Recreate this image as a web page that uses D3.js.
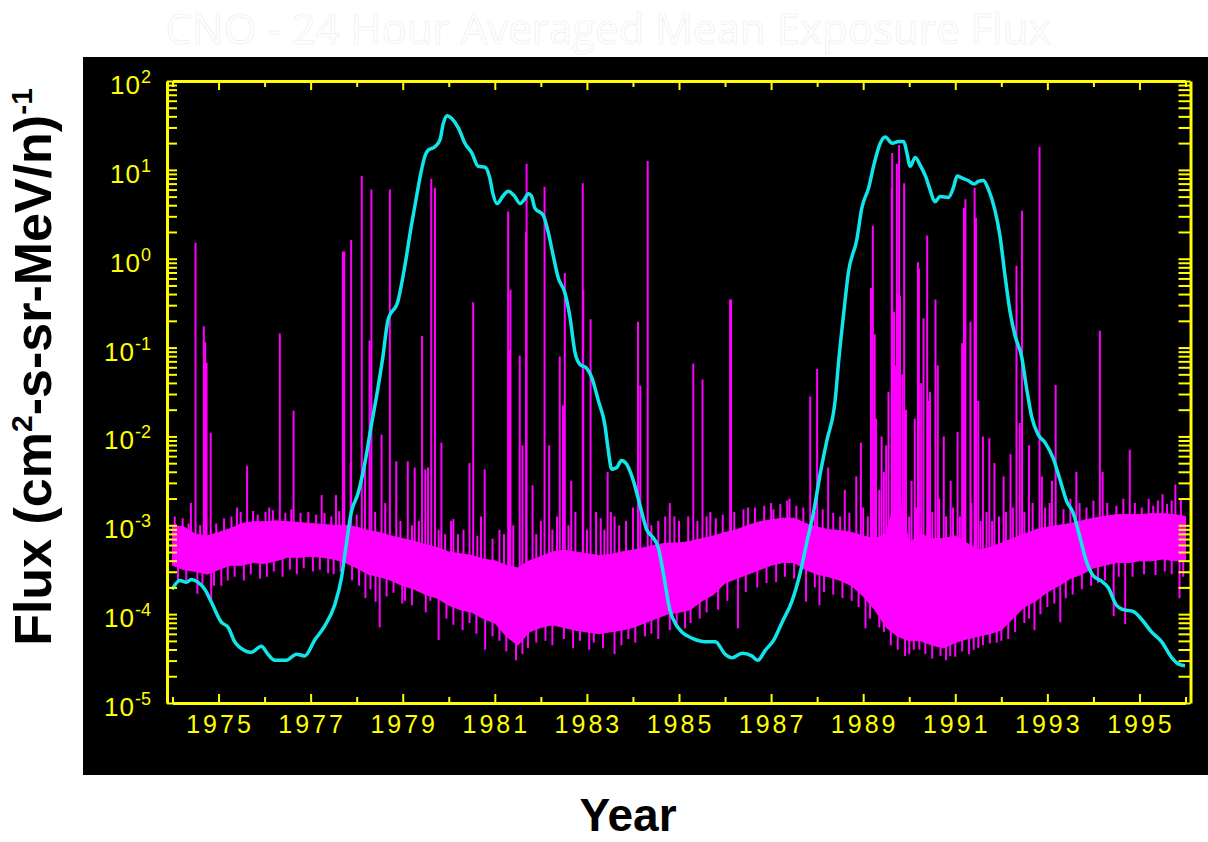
<!DOCTYPE html>
<html><head><meta charset="utf-8">
<script src="https://cdn.jsdelivr.net/npm/d3@7"></script>
<style>body{margin:0;background:#fff;} svg{display:block}</style>
</head><body>
<svg id="c" width="1208" height="842"></svg>
<script>
// ---------- DATA ----------
const titleText = "CNO - 24 Hour Averaged Mean Exposure Flux";
const yearTicks = d3.range(1974, 1997);
const yearLabels = [1975,1977,1979,1981,1983,1985,1987,1989,1991,1993,1995];
const decadeExponents = [-5,-4,-3,-2,-1,0,1,2];

// Smoothed (cyan) curve: year and log10(flux)
const avgYears = [1973.99,1974.16,1974.30,1974.41,1974.55,1974.70,1974.84,1975.06,1975.21,1975.35,1975.57,1975.71,1975.93,1976.07,1976.22,1976.47,1976.69,1976.87,1977.09,1977.31,1977.52,1977.67,1977.77,1977.88,1978.03,1978.17,1978.32,1978.46,1978.57,1978.68,1978.90,1979.04,1979.18,1979.29,1979.40,1979.48,1979.55,1979.70,1979.81,1979.88,1979.97,1980.06,1980.21,1980.35,1980.50,1980.64,1980.79,1980.89,1980.96,1981.05,1981.17,1981.29,1981.42,1981.55,1981.63,1981.73,1981.80,1981.87,1982.05,1982.16,1982.27,1982.38,1982.52,1982.63,1982.74,1982.85,1982.99,1983.10,1983.25,1983.39,1983.46,1983.54,1983.65,1983.75,1983.86,1984.01,1984.15,1984.30,1984.44,1984.55,1984.66,1984.80,1984.95,1985.06,1985.28,1985.57,1985.79,1986.00,1986.15,1986.37,1986.58,1986.71,1986.87,1987.06,1987.24,1987.45,1987.63,1987.78,1987.92,1988.07,1988.21,1988.39,1988.47,1988.58,1988.68,1988.86,1988.97,1989.12,1989.23,1989.37,1989.48,1989.63,1989.77,1989.88,1989.95,1990.02,1990.13,1990.24,1990.36,1990.45,1990.56,1990.67,1990.85,1990.96,1991.04,1991.14,1991.28,1991.41,1991.50,1991.61,1991.72,1991.86,1991.97,1992.08,1992.19,1992.30,1992.44,1992.55,1992.66,1992.80,1992.95,1993.13,1993.27,1993.42,1993.56,1993.71,1993.85,1994.00,1994.18,1994.32,1994.50,1994.65,1994.86,1995.05,1995.26,1995.48,1995.70,1995.84,1995.99];
const avgLog10 = [-3.72,-3.62,-3.64,-3.61,-3.64,-3.72,-3.86,-4.09,-4.15,-4.31,-4.41,-4.43,-4.36,-4.45,-4.52,-4.52,-4.45,-4.47,-4.29,-4.13,-3.90,-3.59,-3.23,-2.86,-2.64,-2.32,-1.87,-1.46,-1.10,-0.69,-0.47,-0.10,0.35,0.67,0.98,1.15,1.22,1.26,1.34,1.52,1.61,1.58,1.47,1.30,1.19,1.04,1.03,0.91,0.73,0.62,0.70,0.76,0.71,0.62,0.66,0.73,0.70,0.57,0.49,0.30,0.03,-0.22,-0.38,-0.65,-1.05,-1.19,-1.23,-1.33,-1.60,-1.87,-2.14,-2.37,-2.35,-2.27,-2.31,-2.50,-2.77,-3.05,-3.14,-3.25,-3.54,-3.95,-4.13,-4.20,-4.27,-4.31,-4.31,-4.45,-4.49,-4.44,-4.47,-4.52,-4.41,-4.29,-4.09,-3.86,-3.54,-3.18,-2.86,-2.41,-2.05,-1.60,-1.14,-0.60,-0.15,0.21,0.57,0.80,1.05,1.30,1.37,1.30,1.32,1.32,1.19,1.04,1.14,1.05,0.92,0.78,0.64,0.70,0.69,0.80,0.93,0.91,0.88,0.84,0.87,0.88,0.78,0.55,0.26,-0.19,-0.60,-0.87,-1.10,-1.46,-1.78,-1.98,-2.07,-2.25,-2.48,-2.73,-2.86,-3.14,-3.41,-3.57,-3.63,-3.70,-3.90,-3.95,-3.97,-4.06,-4.20,-4.31,-4.49,-4.56,-4.58];

// Daily flux (magenta): background band (upper / lower edge, log10) sampled through time
const bandYears = d3.range(0, 89).map(i => 1974 + i * 0.25);
const bandHighLog10 = [-3.00,-3.02,-3.10,-3.12,-3.08,-3.04,-2.98,-2.96,-2.96,-2.95,-2.96,-2.97,-2.98,-2.99,-3.00,-3.00,-3.02,-3.06,-3.08,-3.12,-3.15,-3.18,-3.22,-3.25,-3.30,-3.32,-3.34,-3.38,-3.40,-3.45,-3.48,-3.40,-3.35,-3.30,-3.28,-3.30,-3.32,-3.34,-3.33,-3.30,-3.28,-3.25,-3.22,-3.20,-3.20,-3.18,-3.15,-3.12,-3.08,-3.05,-3.00,-2.96,-2.94,-2.92,-2.92,-2.98,-3.02,-3.05,-3.06,-3.08,-3.12,-3.15,-3.10,-2.60,-3.20,-3.10,-3.15,-3.15,-3.12,-3.20,-3.28,-3.25,-3.20,-3.15,-3.10,-3.05,-3.02,-3.00,-2.98,-2.95,-2.92,-2.90,-2.88,-2.88,-2.88,-2.87,-2.87,-2.88,-2.90];
const bandLowLog10 = [-3.45,-3.50,-3.52,-3.55,-3.50,-3.45,-3.45,-3.42,-3.43,-3.40,-3.36,-3.36,-3.35,-3.36,-3.38,-3.42,-3.48,-3.55,-3.58,-3.62,-3.68,-3.72,-3.78,-3.82,-3.90,-3.95,-3.98,-4.05,-4.10,-4.25,-4.35,-4.20,-4.15,-4.12,-4.15,-4.18,-4.20,-4.22,-4.20,-4.18,-4.15,-4.10,-4.05,-4.00,-3.98,-3.95,-3.85,-3.78,-3.65,-3.60,-3.55,-3.50,-3.45,-3.42,-3.42,-3.50,-3.55,-3.58,-3.62,-3.68,-3.80,-3.95,-4.15,-4.25,-4.30,-4.30,-4.35,-4.38,-4.32,-4.28,-4.25,-4.22,-4.18,-4.05,-3.92,-3.85,-3.75,-3.68,-3.60,-3.55,-3.48,-3.45,-3.42,-3.42,-3.40,-3.40,-3.38,-3.40,-3.40];

// Individual events (spikes and dips) of the daily flux: year, log10(flux)
const spikeYears = [1974.40,1974.50,1974.68,1974.71,1974.74,1974.83,1975.40,1975.62,1976.10,1976.33,1976.63,1977.24,1977.55,1977.70,1977.73,1977.87,1977.88,1978.11,1978.18,1978.28,1978.32,1978.54,1978.72,1978.86,1979.11,1979.26,1979.42,1979.49,1979.55,1979.62,1979.70,1979.84,1980.10,1980.45,1980.53,1980.78,1981.29,1981.32,1981.34,1981.54,1981.60,1981.68,1981.69,1981.82,1982.08,1982.18,1982.41,1982.48,1982.52,1982.66,1982.91,1982.92,1983.08,1983.20,1983.45,1983.60,1984.11,1984.16,1984.32,1984.70,1984.90,1985.31,1985.51,1985.68,1986.11,1986.13,1986.50,1987.00,1987.40,1987.85,1988.00,1988.24,1988.60,1988.85,1988.95,1989.17,1989.21,1989.25,1989.28,1989.40,1989.50,1989.55,1989.62,1989.63,1989.67,1989.70,1989.73,1989.76,1989.78,1989.80,1989.85,1989.89,1989.93,1990.05,1990.12,1990.19,1990.21,1990.26,1990.31,1990.39,1990.42,1990.45,1990.57,1990.62,1990.75,1990.90,1991.05,1991.15,1991.19,1991.22,1991.33,1991.42,1991.45,1991.50,1991.60,1991.74,1991.85,1992.05,1992.20,1992.33,1992.40,1992.45,1992.60,1992.83,1992.88,1993.10,1993.18,1993.63,1994.14,1994.20,1994.79,1995.20,1995.50,1995.78,
  1974.54,1974.84,1975.06,1975.90,1976.39,1977.38,1978.19,1978.41,1978.50,1978.99,1979.40,1979.60,1979.78,1980.79,1981.46,1982.50,1983.60,1984.26,1985.13,1986.28,1987.11,1987.76,1988.05,1989.05,1989.45,1989.91,1990.22,1990.68,1990.89,1991.50,1991.75,1992.72,1993.28,1994.44,1994.69,1995.87];
const spikeLog10 = [-2.75,0.18,-0.76,-0.94,-1.17,-1.96,-2.80,-2.33,-2.80,-0.84,-1.71,-2.66,-2.66,0.08,0.08,-2.30,0.21,0.93,-2.35,-0.92,0.78,-1.98,0.78,-2.28,-2.28,-2.35,-0.87,-2.37,-2.35,0.90,0.80,-2.07,-2.93,-2.30,-0.49,-2.37,0.53,-1.03,-0.35,-1.09,-2.10,0.30,1.07,-2.55,0.81,-2.10,-1.10,-1.65,-0.16,-2.50,0.85,-0.35,-0.68,-2.85,-2.40,-2.90,-0.71,-1.43,1.10,-2.90,-2.90,-1.18,-1.36,-2.85,-0.46,-0.46,-2.80,-2.75,-2.70,-1.55,-1.24,-2.35,-2.60,-2.45,-2.07,-0.33,0.37,-0.85,-1.80,-2.00,-2.10,-1.50,0.80,1.19,-0.60,-1.20,1.07,-0.40,1.28,-0.42,-1.30,0.85,-1.70,-2.50,-1.80,-0.04,-0.11,-1.40,-0.67,0.26,-1.60,-1.50,-0.46,-1.20,-2.00,-2.50,-1.95,-0.95,0.57,0.67,-0.71,0.80,0.46,-1.60,-2.00,-2.02,-2.30,-2.45,-2.20,-0.08,-1.85,0.54,-2.10,1.26,-2.45,-2.50,-1.42,-2.40,-0.81,-2.40,-2.15,-2.70,-2.65,-2.54,
  -3.77,-3.86,-3.68,-3.60,-3.58,-3.54,-3.82,-3.86,-4.15,-3.88,-3.75,-3.85,-4.29,-4.40,-4.52,-4.28,-4.45,-4.25,-4.16,-4.16,-3.64,-3.86,-3.90,-4.16,-4.20,-4.47,-4.40,-4.47,-4.47,-4.38,-4.33,-4.18,-4.09,-4.02,-4.11,-3.82];

// Day-to-day scatter just outside the band (short excursions above / below): year, log10(flux)
const scatterUpYears = [1974.05,1974.22,1974.35,1974.60,1974.95,1975.12,1975.28,1975.48,1975.75,1975.85,1976.02,1976.18,1976.45,1976.58,1976.78,1976.95,1977.12,1977.30,1977.45,1977.62,1978.00,1978.40,1978.62,1978.95,1979.20,1979.35,1979.78,1979.92,1980.05,1980.20,1980.32,1980.62,1980.70,1980.95,1981.10,1981.20,1981.40,1981.90,1982.00,1982.25,1982.35,1982.60,1982.75,1983.00,1983.30,1983.38,1983.52,1983.70,1983.85,1984.00,1984.40,1984.55,1984.80,1985.00,1985.20,1985.40,1985.60,1985.80,1985.95,1986.20,1986.40,1986.65,1986.85,1987.05,1987.20,1987.35,1987.55,1987.70,1987.95,1988.12,1988.35,1988.50,1988.70,1989.00,1989.10,1989.35,1989.45,1990.00,1990.15,1990.50,1990.65,1990.80,1990.95,1991.10,1991.35,1991.55,1991.68,1991.80,1991.95,1992.10,1992.25,1992.50,1992.68,1992.95,1993.05,1993.35,1993.50,1993.70,1993.85,1994.00,1994.30,1994.50,1994.65,1994.90,1995.05,1995.30,1995.40,1995.60,1995.70,1995.90];
const scatterUpLog10 = [-2.90,-2.92,-2.98,-3.00,-2.98,-2.92,-2.90,-2.85,-2.84,-2.88,-2.85,-2.83,-2.86,-2.82,-2.86,-2.85,-2.88,-2.86,-2.90,-2.84,-2.88,-2.85,-2.75,-2.95,-3.00,-2.95,-3.05,-3.10,-2.95,-3.10,-3.05,-3.12,-2.90,-3.15,-3.05,-3.10,-3.00,-3.10,-2.95,-3.05,-2.90,-3.00,-2.85,-3.05,-2.92,-3.05,-2.85,-3.00,-2.95,-2.80,-3.00,-2.95,-2.75,-2.95,-2.90,-2.95,-2.90,-2.92,-2.88,-2.85,-2.82,-2.80,-2.78,-2.82,-2.76,-2.72,-2.78,-2.80,-2.85,-2.82,-2.86,-2.90,-2.86,-2.80,-2.90,-2.60,-2.40,-2.90,-2.80,-2.85,-2.70,-2.90,-2.80,-2.90,-2.75,-2.95,-2.85,-2.95,-2.90,-2.85,-2.80,-2.85,-2.75,-2.80,-2.75,-2.82,-2.70,-2.75,-2.80,-2.72,-2.75,-2.78,-2.70,-2.75,-2.80,-2.78,-2.72,-2.76,-2.72,-2.70];
const scatterDownYears = [1974.12,1974.30,1974.65,1974.90,1975.20,1975.35,1975.55,1975.70,1976.05,1976.20,1976.55,1976.70,1976.85,1977.05,1977.20,1977.50,1977.65,1977.90,1978.05,1978.30,1978.65,1978.80,1979.05,1979.20,1979.50,1979.95,1980.10,1980.30,1980.45,1980.60,1980.95,1981.10,1981.25,1981.60,1981.72,1981.90,1982.10,1982.25,1982.70,1982.85,1983.05,1983.15,1983.35,1983.75,1983.90,1984.05,1984.40,1984.55,1984.80,1984.95,1985.25,1985.45,1985.60,1985.85,1986.05,1986.45,1986.70,1986.90,1987.30,1987.50,1987.95,1988.15,1988.35,1988.55,1988.75,1988.90,1989.15,1989.35,1989.60,1989.75,1990.00,1990.10,1990.35,1990.50,1990.80,1991.00,1991.15,1991.30,1991.40,1991.60,1991.90,1992.00,1992.15,1992.30,1992.50,1992.60,1992.85,1993.00,1993.15,1993.40,1993.55,1993.75,1993.95,1994.10,1994.25,1994.55,1994.85,1995.10,1995.35,1995.55,1995.70,1995.95];
const scatterDownLog10 = [-3.65,-3.62,-3.70,-3.68,-3.62,-3.58,-3.62,-3.55,-3.58,-3.52,-3.50,-3.55,-3.48,-3.52,-3.50,-3.55,-3.52,-3.62,-3.68,-3.72,-3.80,-3.76,-3.85,-3.90,-3.98,-4.05,-4.12,-4.18,-4.10,-4.22,-4.25,-4.30,-4.42,-4.45,-4.38,-4.32,-4.30,-4.35,-4.38,-4.30,-4.40,-4.32,-4.38,-4.35,-4.28,-4.32,-4.22,-4.28,-4.18,-4.15,-4.10,-4.05,-3.98,-3.95,-3.85,-3.75,-3.70,-3.65,-3.58,-3.60,-3.70,-3.75,-3.78,-3.82,-3.85,-3.92,-4.05,-4.15,-4.35,-4.40,-4.45,-4.40,-4.45,-4.50,-4.52,-4.48,-4.42,-4.45,-4.40,-4.35,-4.32,-4.30,-4.28,-4.20,-4.10,-4.05,-4.00,-3.92,-3.88,-3.82,-3.78,-3.72,-3.68,-3.65,-3.62,-3.58,-3.58,-3.55,-3.56,-3.52,-3.55,-3.58];

// ---------- CHART ----------
const svg = d3.select("#c");
const W = 1208;
const x = d3.scaleLinear().domain([1974, 1996]).range([172.5, 1185.5]);
const y = d3.scaleLog().domain([1e-5, 1e2]).range([703, 81]);
const YELLOW = "#ffff00";
const MAGENTA = "#ff00ff";
const FONT = "'Liberation Sans', Arial, sans-serif";

svg.append("rect").attr("x", 83).attr("y", 57).attr("width", W - 83).attr("height", 718).attr("fill", "#000");

svg.append("text").attr("x", 608).attr("y", 44).attr("text-anchor", "middle")
  .attr("font-family", "'Open Sans', sans-serif").attr("font-size", 42)
  .attr("fill", "#fff").attr("stroke", "#ececec").attr("stroke-width", 0.6)
  .text(titleText);

svg.append("clipPath").attr("id", "plotclip").append("rect")
  .attr("x", x.range()[0] - 4).attr("y", y.range()[1]).attr("width", x.range()[1] - x.range()[0] + 8).attr("height", y.range()[0] - y.range()[1]);
const plot = svg.append("g").attr("clip-path", "url(#plotclip)");

const band = bandYears.map((yr, i) => ({yr, hi: Math.pow(10, bandHighLog10[i]), lo: Math.pow(10, bandLowLog10[i])}));
plot.append("path").datum(band)
  .attr("d", d3.area().x(d => x(d.yr)).y0(d => y(d.lo)).y1(d => y(d.hi)))
  .attr("fill", MAGENTA).attr("stroke", MAGENTA).attr("stroke-width", 1);

const bis = d3.bisector(d => d.yr).left;
function bandMidLog(yr) {
  const i = Math.max(1, Math.min(band.length - 1, bis(band, yr)));
  const a = band[i - 1], b = band[i];
  const t = (yr - a.yr) / (b.yr - a.yr);
  const ma = (Math.log10(a.hi) + Math.log10(a.lo)) / 2, mb = (Math.log10(b.hi) + Math.log10(b.lo)) / 2;
  return ma + t * (mb - ma);
}
function events(years, logs) {
  return years.map((yr, i) => ({yr, v: Math.pow(10, logs[i]), base: Math.pow(10, bandMidLog(yr))}));
}
const allEvents = [].concat(events(scatterUpYears, scatterUpLog10), events(scatterDownYears, scatterDownLog10), events(spikeYears, spikeLog10));
plot.append("g").selectAll("line").data(allEvents).join("line")
  .attr("x1", d => x(d.yr)).attr("x2", d => x(d.yr))
  .attr("y1", d => y(d.base)).attr("y2", d => y(d.v))
  .attr("stroke", MAGENTA).attr("stroke-width", 2);

const avg = avgYears.map((yr, i) => ({yr, v: Math.pow(10, avgLog10[i])}));
plot.append("path").datum(avg)
  .attr("d", d3.line().x(d => x(d.yr)).y(d => y(d.v)).curve(d3.curveMonotoneX))
  .attr("fill", "none").attr("stroke", "#10e6ea").attr("stroke-width", 3.5).attr("stroke-linejoin", "round");

// ---------- AXES ----------
const yTickVals = [];
decadeExponents.forEach(e => { if (e < 2) { for (let k = 1; k <= 9; k++) yTickVals.push(k * Math.pow(10, e)); } else yTickVals.push(100); });

function styleAxis(g) {
  g.select(".domain").attr("stroke", YELLOW).attr("stroke-width", 3);
  g.selectAll(".tick line").attr("stroke", YELLOW).attr("stroke-width", 2);
  g.selectAll(".tick text").remove();
}
svg.append("g").attr("transform", "translate(167,0)")
  .call(d3.axisLeft(y).tickValues(yTickVals).tickSize(-10).tickSizeOuter(0).tickFormat(""))
  .call(styleAxis);
svg.append("g").attr("transform", "translate(1190.5,0)")
  .call(d3.axisRight(y).tickValues(yTickVals).tickSize(-12).tickSizeOuter(0).tickFormat(""))
  .call(styleAxis);
const topAx = svg.append("g").attr("transform", "translate(0,81)")
  .call(d3.axisTop(x).tickValues(yearTicks).tickSize(-6).tickSizeOuter(0).tickFormat(""))
  .call(styleAxis);
topAx.selectAll(".tick line").filter(d => d % 2 === 1).attr("y2", 9);
const botAx = svg.append("g").attr("transform", "translate(0,703)")
  .call(d3.axisBottom(x).tickValues(yearTicks).tickSize(-6).tickSizeOuter(0).tickFormat(""))
  .call(styleAxis);
botAx.selectAll(".tick line").filter(d => d % 2 === 1).attr("y2", -9);

// x tick labels
svg.append("g").selectAll("text").data(yearLabels).join("text")
  .attr("x", d => x(d) + 1.5).attr("y", 733).attr("text-anchor", "middle")
  .attr("font-family", FONT).attr("font-size", 25).attr("letter-spacing", 3)
  .attr("fill", YELLOW).text(d => d);

// y tick labels
const yl = svg.append("g").selectAll("text").data(decadeExponents).join("text")
  .attr("x", 151).attr("y", d => y(Math.pow(10, d)) + 13).attr("text-anchor", "end")
  .attr("font-family", FONT).attr("fill", YELLOW);
yl.append("tspan").attr("font-size", 26).attr("letter-spacing", 1).text("10");
yl.append("tspan").attr("font-size", 18).attr("dy", -11).text(d => String(d));

// axis titles
const yt = svg.append("text").attr("transform", "translate(51,367) rotate(-90)")
  .attr("text-anchor", "middle").attr("font-family", FONT).attr("font-weight", "bold")
  .attr("font-size", 52).attr("fill", "#000");
yt.append("tspan").text("Flux (cm");
yt.append("tspan").attr("font-size", 30).attr("dy", -19).text("2");
yt.append("tspan").attr("dy", 19).text("-s-sr-MeV/n)");
yt.append("tspan").attr("font-size", 30).attr("dy", -19).text("-1");

svg.append("text").attr("x", 628).attr("y", 831).attr("text-anchor", "middle")
  .attr("font-family", FONT).attr("font-weight", "bold").attr("font-size", 46)
  .attr("fill", "#000").text("Year");
</script>
</body></html>
